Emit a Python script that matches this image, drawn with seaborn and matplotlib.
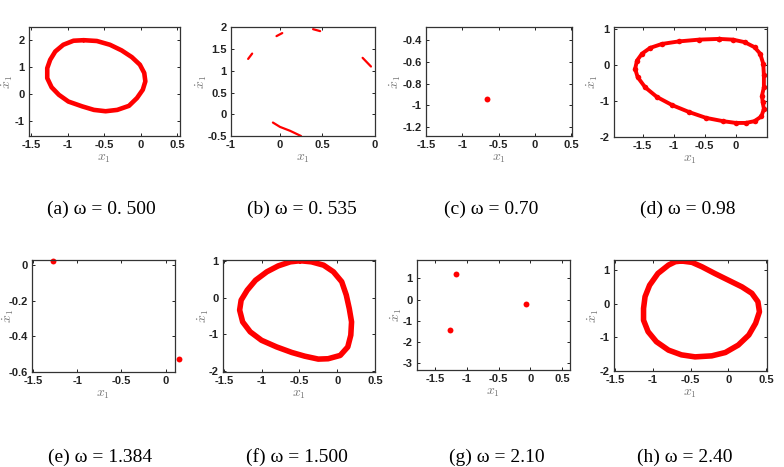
import numpy as np
import pandas as pd
import matplotlib
matplotlib.use("Agg")
import matplotlib.pyplot as plt
import seaborn as sns

# ---- data (x1, dx1) ----
# (a) omega = 0.500 : closed orbit
a_x = [-0.78, -0.60, -0.42, -0.26, -0.12, -0.01, 0.05, 0.065, 0.03, -0.05, -0.16, -0.32,
       -0.48, -0.64, -0.80, -0.99, -1.12, -1.22, -1.28, -1.28, -1.24, -1.17, -1.06, -0.92, -0.78]
a_y = [2.01, 1.98, 1.84, 1.63, 1.38, 1.10, 0.79, 0.48, 0.17, -0.14, -0.43, -0.58,
       -0.63, -0.58, -0.45, -0.27, -0.02, 0.26, 0.60, 0.97, 1.28, 1.59, 1.84, 1.99, 2.01]

# (b) omega = 0.535 : five short arcs
b_seg = [1, 1, 2, 2, 3, 3, 4, 4, 5, 5, 5, 5]
b_x = [-0.881, -0.853, -0.684, -0.644, -0.430, -0.381, -0.086, -0.028, -0.709, -0.66, -0.59, -0.514]
b_y = [1.275, 1.398, 1.80, 1.87, 1.96, 1.915, 1.30, 1.10, -0.19, -0.29, -0.38, -0.50]
b_ticks = [-1.0, -0.66, -0.365, 0.0]
b_ticklabels = ["-1", "0", "0.5", "0"]

# (c) omega = 0.70 : fixed point
c_x = [-0.661]
c_y = [-0.938]

# (d) omega = 0.98 : orbit with a dent on the right
d_x = [-0.27, -0.05, 0.14, 0.30, 0.39, 0.44, 0.45, 0.45, 0.42, 0.43, 0.45, 0.41, 0.30, 0.16,
       0.0, -0.21, -0.48, -0.75, -1.02, -1.27, -1.46, -1.58, -1.62, -1.59, -1.51, -1.38,
       -1.19, -0.92, -0.59, -0.27]
d_y = [0.72, 0.70, 0.63, 0.49, 0.31, 0.03, -0.29, -0.62, -0.85, -1.03, -1.22, -1.43, -1.56,
       -1.61, -1.61, -1.56, -1.47, -1.31, -1.12, -0.89, -0.62, -0.34, -0.11, 0.12, 0.31,
       0.47, 0.58, 0.65, 0.70, 0.72]

# (e) omega = 1.384 : period-2 points
e_x = [-1.273, 0.148]
e_y = [0.026, -0.525]

# (f) omega = 1.500 : closed orbit
f_x = [-0.49, -0.34, -0.18, -0.05, 0.06, 0.12, 0.16, 0.19, 0.18, 0.14, 0.04, -0.12, -0.25,
       -0.43, -0.60, -0.80, -1.00, -1.15, -1.25, -1.29, -1.27, -1.19, -1.08, -0.93, -0.78,
       -0.62, -0.49]
f_y = [1.00, 0.97, 0.88, 0.70, 0.43, 0.07, -0.30, -0.66, -1.02, -1.34, -1.57, -1.66, -1.67,
       -1.59, -1.49, -1.34, -1.16, -0.93, -0.66, -0.34, -0.07, 0.20, 0.47, 0.70, 0.86,
       0.97, 1.00]

# (g) omega = 2.10 : period-3 points
g_x = [-1.17, -0.078, -1.266]
g_y = [1.22, -0.197, -1.425]

# (h) omega = 2.40 : closed orbit
h_x = [-0.617, -0.48, -0.35, -0.18, 0.0, 0.18, 0.31, 0.39, 0.41, 0.36, 0.27, 0.13, -0.04,
       -0.22, -0.44, -0.62, -0.79, -0.95, -1.06, -1.12, -1.12, -1.10, -1.04, -0.93, -0.79,
       -0.70, -0.617]
h_y = [1.27, 1.23, 1.10, 0.90, 0.70, 0.50, 0.31, 0.06, -0.24, -0.58, -0.93, -1.23, -1.45,
       -1.55, -1.58, -1.52, -1.38, -1.13, -0.83, -0.49, -0.14, 0.21, 0.55, 0.90, 1.15,
       1.25, 1.27]

captions = ["(a) ω = 0. 500", "(b) ω = 0. 535", "(c) ω = 0.70", "(d) ω = 0.98",
            "(e) ω = 1.384", "(f) ω = 1.500", "(g) ω = 2.10", "(h) ω = 2.40"]

sns.set_theme(style="ticks")
plt.rcParams['mathtext.fontset'] = 'cm'

W, H = 784, 467
fig = plt.figure(figsize=(W / 100, H / 100), dpi=100)

# axes boxes in pixels: left, right, top, bottom, ylabel offset
boxes = [(29, 180, 27, 136, 22), (231, 375, 27, 136, 30), (426, 572, 27, 136, 31),
         (614, 767, 27, 137, 22), (32, 175, 260, 372, 24), (223, 375, 260, 372, 20),
         (417, 570, 260, 370, 21), (614, 767, 260, 371, 21)]
axes = []
for l, r, t, b, _ in boxes:
    axes.append(fig.add_axes([l / W, 1 - b / H, (r - l) / W, (b - t) / H]))

red = '#ff0000'

def loop(ax, xs, ys, lw, marker=None):
    df = pd.DataFrame({'x': xs, 'y': ys})
    sns.lineplot(data=df, x='x', y='y', sort=False, estimator=None, color=red,
                 linewidth=lw, marker=marker, markersize=4, markeredgewidth=0,
                 solid_joinstyle='round', solid_capstyle='round', ax=ax)

def dots(ax, xs, ys):
    df = pd.DataFrame({'x': xs, 'y': ys})
    sns.scatterplot(data=df, x='x', y='y', color=red, s=18, linewidth=0, ax=ax, clip_on=False)

loop(axes[0], a_x, a_y, 3.3)
axes[0].set_xlim(-1.53, 0.54); axes[0].set_ylim(-1.55, 2.5)
axes[0].set_xticks([-1.5, -1, -0.5, 0, 0.5]); axes[0].set_yticks([-1, 0, 1, 2])

df_b = pd.DataFrame({'x': b_x, 'y': b_y, 'seg': b_seg})
sns.lineplot(data=df_b, x='x', y='y', units='seg', estimator=None, sort=False,
             color=red, linewidth=1.6, ax=axes[1])
axes[1].set_xlim(-1.0, 0.0); axes[1].set_ylim(-0.5, 2.01)
axes[1].set_xticks(b_ticks); axes[1].set_xticklabels(b_ticklabels)
axes[1].set_yticks([-0.5, 0, 0.5, 1, 1.5, 2])
axes[1].set_yticklabels(["-0.5", "0", "0.5", "1", "1.5", "2"])

dots(axes[2], c_x, c_y)
axes[2].set_xlim(-1.5, 0.51); axes[2].set_ylim(-1.28, -0.28)
axes[2].set_xticks([-1.5, -1, -0.5, 0, 0.5]); axes[2].set_yticks([-1.2, -1, -0.8, -0.6, -0.4])

loop(axes[3], d_x, d_y, 2.8, marker='o')
axes[3].set_xlim(-1.96, 0.5); axes[3].set_ylim(-2, 1.05)
axes[3].set_xticks([-1.5, -1, -0.5, 0]); axes[3].set_yticks([-2, -1, 0, 1])

dots(axes[4], e_x, e_y)
axes[4].set_xlim(-1.51, 0.106); axes[4].set_ylim(-0.6, 0.03)
axes[4].set_xticks([-1.5, -1, -0.5, 0]); axes[4].set_yticks([-0.6, -0.4, -0.2, 0])

loop(axes[5], f_x, f_y, 4.0)
axes[5].set_xlim(-1.51, 0.5); axes[5].set_ylim(-2.02, 1.02)
axes[5].set_xticks([-1.5, -1, -0.5, 0, 0.5]); axes[5].set_yticks([-2, -1, 0, 1])

dots(axes[6], g_x, g_y)
axes[6].set_xlim(-1.78, 0.62); axes[6].set_ylim(-3.33, 1.87)
axes[6].set_xticks([-1.5, -1, -0.5, 0, 0.5]); axes[6].set_yticks([-3, -2, -1, 0, 1])

loop(axes[7], h_x, h_y, 4.0)
axes[7].set_xlim(-1.51, 0.51); axes[7].set_ylim(-2, 1.3)
axes[7].set_xticks([-1.5, -1, -0.5, 0, 0.5]); axes[7].set_yticks([-2, -1, 0, 1])

fmt = matplotlib.ticker.FuncFormatter(lambda v, p: '%g' % round(v, 3) if abs(v) > 1e-9 else '0')
for i, ax in enumerate(axes):
    l, r, t, b, yoff = boxes[i]
    if i != 1:
        ax.xaxis.set_major_formatter(fmt)
        ax.yaxis.set_major_formatter(fmt)
    ax.tick_params(direction='in', top=True, right=True, length=2.5, width=0.7,
                   labelsize=8, pad=3, colors='#222222')
    for lab in ax.get_xticklabels() + ax.get_yticklabels():
        lab.set_fontweight('bold')
        lab.set_family('Liberation Sans')
    for s in ax.spines.values():
        s.set_linewidth(0.9)
        s.set_color('#333333')
    ax.set_xlabel(r'$x_1$', fontsize=10, color='#777777', va='center')
    ax.set_ylabel(r'$\dot{x}_1$', fontsize=10, color='#777777', va='center')
    ax.xaxis.set_label_coords(0.5, -22 / (b - t))
    ax.yaxis.set_label_coords(-yoff / (r - l), 0.5)

cap_pos = [(101, 209), (302, 209), (491, 209), (688, 209),
           (100, 457), (297, 457), (497, 457), (685, 457)]
for (cx, cy), txt in zip(cap_pos, captions):
    fig.text(cx / W, 1 - cy / H, txt, ha='center', va='center', fontsize=14,
             family='Liberation Serif', color='black')

fig.savefig('out.png', dpi=100)
